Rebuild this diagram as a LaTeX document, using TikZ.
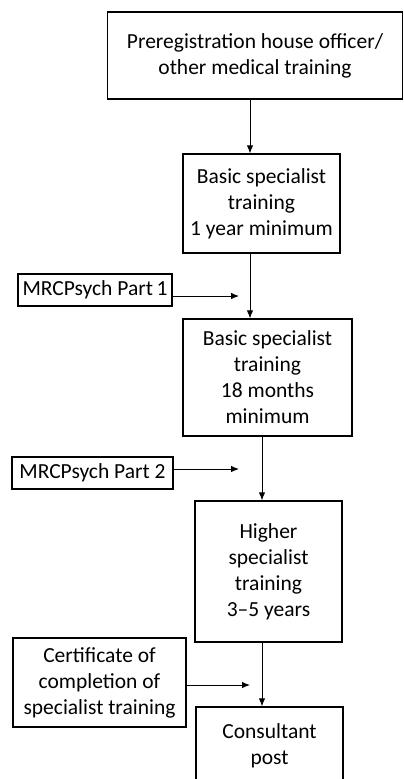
\documentclass[tikz,border=0pt]{standalone}
\usepackage{fontspec}
\setmainfont{Carlito}
\usetikzlibrary{arrows.meta}
\tikzset{
  stage/.style={draw, line width=1.3pt, align=center, inner sep=0pt, font=\fontsize{21.5}{26}\selectfont},
  flow/.style={line width=0.9pt, -{Latex[length=8pt,width=6.5pt]}}
}

\begin{document}
\begin{tikzpicture}[x=1pt, y=-1pt]
\useasboundingbox (0,0) rectangle (404,779);
\clip (0,0) rectangle (404,779);
\node[stage, minimum width=295pt, minimum height=87pt] (pho) at (255,55.5) {Preregistration house officer/\\other medical training};
\node[stage, minimum width=157pt, minimum height=99pt] (bst1) at (261.5,203.5) {Basic specialist\\training\\1 year minimum};
\node[stage, minimum width=154pt, minimum height=32pt] (part1) at (95,290) {MRCPsych Part\,1};
\node[stage, minimum width=169pt, minimum height=117pt] (bst2) at (267.5,377.5) {Basic specialist\\training\\18 months\\minimum};
\node[stage, minimum width=161pt, minimum height=32pt] (part2) at (92.5,473) {MRCPsych Part 2};
\node[stage, minimum width=147pt, minimum height=141pt] (hst) at (268.5,571.5) {Higher\\specialist\\training\\3--5 years};
\node[stage, minimum width=173pt, minimum height=89pt] (cct) at (99.5,682.5) {Certificate of\\completion of\\specialist training};
\node[stage, minimum width=147pt, minimum height=78pt] (post) at (269.5,746) {Consultant\\post};
\coordinate (ax) at (250,0);
\coordinate (bx) at (262,0);
\coordinate (p1end) at (239,296);
\coordinate (p2end) at (239,469);
\coordinate (cend) at (250,685);
\draw[flow] (pho.south -| ax) -- (bst1.north -| ax);
\draw[flow] (bst1.south -| ax) -- (bst2.north -| ax);
\draw[flow] (bst2.south -| bx) -- (hst.north -| bx);
\draw[flow] (hst.south -| bx) -- (post.north -| bx);
\draw[flow] (part1.east |- p1end) -- (p1end);
\draw[flow] (part2.east |- p2end) -- (p2end);
\draw[flow] (cct.east |- cend) -- (cend);
\end{tikzpicture}
\end{document}
